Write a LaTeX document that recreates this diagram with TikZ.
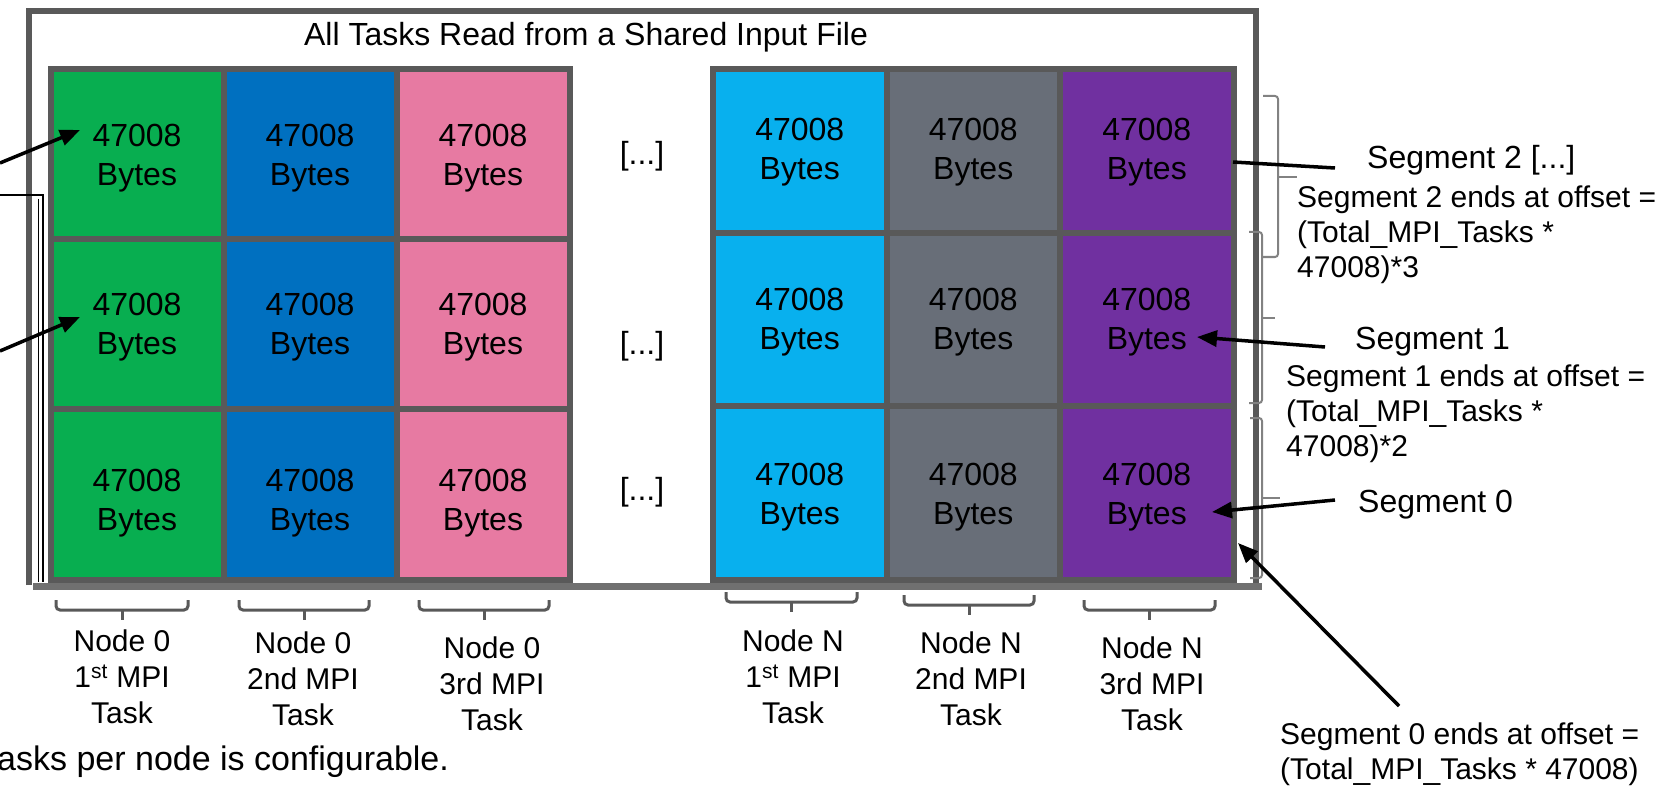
\documentclass[tikz,border=0pt]{standalone}
\usepackage{fontspec}
\setmainfont{Liberation Sans}
\usetikzlibrary{arrows.meta}
\definecolor{cgreen}{RGB}{8,174,80}
\definecolor{cblue}{RGB}{0,112,192}
\definecolor{cpink}{RGB}{231,122,162}
\definecolor{clblue}{RGB}{8,176,238}
\definecolor{cgray}{RGB}{104,110,120}
\definecolor{cpurple}{RGB}{112,48,160}
\definecolor{gridgray}{RGB}{89,89,89}
\definecolor{bargray}{RGB}{112,112,112}
\definecolor{bracegray}{RGB}{130,130,130}
\tikzset{
  cell/.style={draw=gridgray, line width=6pt, inner sep=0pt, align=center,
    text height=#1, text depth=0pt, font=\fontsize{32}{39}\selectfont},
  big/.style={inner sep=0pt, font=\fontsize{32}{39}\selectfont},
  small/.style={inner sep=0pt, align=left, font=\fontsize{30}{35}\selectfont},
  lab/.style={inner sep=0pt, align=center, font=\fontsize{30}{36}\selectfont},
  frame/.style={draw=gridgray, line width=6pt},
  bar/.style={draw=bargray, line width=7pt},
  thin/.style={draw=black, line width=1.5pt},
  arr/.style={draw=black, line width=3.5pt, -{Triangle[length=20pt,width=16pt]}},
  plain/.style={draw=black, line width=3.5pt},
  bbr/.style={draw=gridgray, line width=3pt, rounded corners=4pt},
  rbr/.style={draw=bracegray, line width=2pt, rounded corners=3pt},
}
\begin{document}
\begin{tikzpicture}[x=1pt,y=-1pt]
\useasboundingbox (0,0) rectangle (1669,786);
% outer frame
\draw[frame] (28.5,585) -- (28.5,11.5) -- (1255.5,11.5) -- (1255.5,585);
\node[big] (title) at (586,37) {All Tasks Read from a Shared Input File};
% left block
\node[cell=64pt, fill=cgreen, minimum width=173pt, minimum height=170pt] (l11) at (137,154) {47008\\Bytes};
\node[cell=64pt, fill=cblue, minimum width=173pt, minimum height=170pt] (l12) at (310,154) {47008\\Bytes};
\node[cell=64pt, fill=cpink, minimum width=173pt, minimum height=170pt] (l13) at (483,154) {47008\\Bytes};
\node[cell=60pt, fill=cgreen, minimum width=173pt, minimum height=170pt] (l21) at (137,324) {47008\\Bytes};
\node[cell=60pt, fill=cblue, minimum width=173pt, minimum height=170pt] (l22) at (310,324) {47008\\Bytes};
\node[cell=60pt, fill=cpink, minimum width=173pt, minimum height=170pt] (l23) at (483,324) {47008\\Bytes};
\node[cell=71pt, fill=cgreen, minimum width=173pt, minimum height=171pt] (l31) at (137,494.5) {47008\\Bytes};
\node[cell=71pt, fill=cblue, minimum width=173pt, minimum height=171pt] (l32) at (310,494.5) {47008\\Bytes};
\node[cell=71pt, fill=cpink, minimum width=173pt, minimum height=171pt] (l33) at (483,494.5) {47008\\Bytes};
% right block
\node[cell=58pt, fill=clblue, minimum width=173.5pt, minimum height=164pt] (r11) at (799.75,151) {47008\\Bytes};
\node[cell=58pt, fill=cgray, minimum width=173.5pt, minimum height=164pt] (r12) at (973.25,151) {47008\\Bytes};
\node[cell=58pt, fill=cpurple, minimum width=173.5pt, minimum height=164pt] (r13) at (1146.75,151) {47008\\Bytes};
\node[cell=60pt, fill=clblue, minimum width=173.5pt, minimum height=173pt] (r21) at (799.75,319.5) {47008\\Bytes};
\node[cell=60pt, fill=cgray, minimum width=173.5pt, minimum height=173pt] (r22) at (973.25,319.5) {47008\\Bytes};
\node[cell=60pt, fill=cpurple, minimum width=173.5pt, minimum height=173pt] (r23) at (1146.75,319.5) {47008\\Bytes};
\node[cell=63pt, fill=clblue, minimum width=173.5pt, minimum height=174pt] (r31) at (799.75,493) {47008\\Bytes};
\node[cell=63pt, fill=cgray, minimum width=173.5pt, minimum height=174pt] (r32) at (973.25,493) {47008\\Bytes};
\node[cell=63pt, fill=cpurple, minimum width=173.5pt, minimum height=174pt] (r33) at (1146.75,493) {47008\\Bytes};
% dots
\node[big] (d1) at (642,156) {[...]};
\node[big] (d2) at (642,346) {[...]};
\node[big] (d3) at (642,492) {[...]};
% bottom bar
\draw[bar] (33,586.5) -- (1262,586.5);
% thin left lines
\coordinate (tl0) at (0,195);
\coordinate (tl1) at (43,195);
\coordinate (tl2) at (43,582);
\draw[thin] (tl0) -- (tl1) -- (tl2);
\coordinate (tm1) at (38.5,199);
\coordinate (tm2) at (38.5,582);
\draw[thin, line width=1.2pt] (tm1) -- (tm2);
% left arrows
\coordinate (la1) at (0,163);
\coordinate (lb1) at (80,130);
\coordinate (la2) at (0,351);
\coordinate (lb2) at (80,317);
\draw[arr] (la1) -- (lb1);
\draw[arr] (la2) -- (lb2);
% bottom braces
\draw[bbr] (56,600) |- (188,610) -- (188,600);   \draw[bbr] (122,610) -- (122,620);
\draw[bbr] (239,600) |- (369,610) -- (369,600);  \draw[bbr] (304,610) -- (304,620);
\draw[bbr] (419,600) |- (549,610) -- (549,600);  \draw[bbr] (484,610) -- (484,620);
\draw[bbr] (726,592) |- (857,602) -- (857,592);  \draw[bbr] (791.5,602) -- (791.5,612);
\draw[bbr] (904,595) |- (1034,605) -- (1034,595); \draw[bbr] (969,605) -- (969,615);
\draw[bbr] (1084,600) |- (1215,610) -- (1215,600); \draw[bbr] (1149.5,610) -- (1149.5,620);
% node labels
\node[lab] (n1) at (122,677) {Node 0\\1\textsuperscript{st} MPI\\Task};
\node[lab] (n2) at (303,679) {Node 0\\2nd MPI\\Task};
\node[lab] (n3) at (492,684) {Node 0\\3rd MPI\\Task};
\node[lab] (n4) at (793,677) {Node N\\1\textsuperscript{st} MPI\\Task};
\node[lab] (n5) at (971,679) {Node N\\2nd MPI\\Task};
\node[lab] (n6) at (1152,684) {Node N\\3rd MPI\\Task};
% bottom text
\node[inner sep=0pt, anchor=base west, font=\fontsize{34}{40}\selectfont] (note) at (-3,770) {asks per node is configurable.};
% right braces
\draw[rbr] (1263,96) -| (1278,257) -- (1263,257);  \draw[rbr] (1278,177) -- (1297,177);
\draw[rbr] (1249,232) -| (1262,403) -- (1249,403); \draw[rbr] (1262,318) -- (1275,318);
\draw[rbr] (1250,418) -| (1262,578) -- (1250,578); \draw[rbr] (1262,498) -- (1280,498);
% segment labels
\node[big, anchor=west] (s2) at (1367,160) {Segment 2 [...]};
\node[small, anchor=west] (s2t) at (1297,235) {Segment 2 ends at offset =\\(Total\_MPI\_Tasks *\\47008)*3};
\node[big, anchor=west] (s1) at (1355,342) {Segment 1};
\node[small, anchor=west] (s1t) at (1286,414) {Segment 1 ends at offset =\\(Total\_MPI\_Tasks *\\47008)*2};
\node[big, anchor=west] (s0) at (1358,505) {Segment 0};
\node[small, anchor=west] (s0t) at (1280,754) {Segment 0 ends at offset =\\(Total\_MPI\_Tasks * 47008)};
% right connectors
\coordinate (c2a) at (1233,162);
\coordinate (c2b) at (1335,168);
\draw[plain] (c2a) -- (c2b);
\coordinate (c1a) at (1325,347);
\coordinate (c1b) at (1197,337);
\draw[arr] (c1a) -- (c1b);
\coordinate (c0a) at (1335,500);
\coordinate (c0b) at (1212,512);
\draw[arr] (c0a) -- (c0b);
\coordinate (cea) at (1399,706);
\coordinate (ceb) at (1238,543);
\draw[arr] (cea) -- (ceb);
\end{tikzpicture}
\end{document}
